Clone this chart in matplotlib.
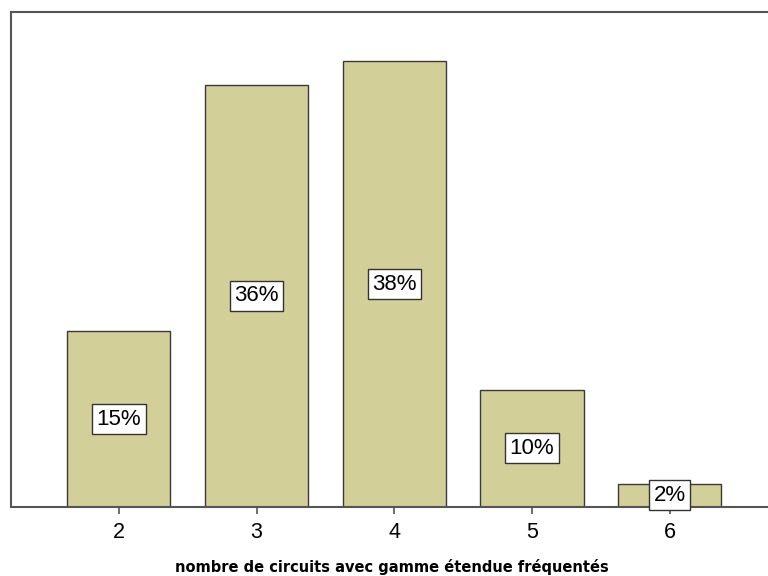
import matplotlib.pyplot as plt

# nombre de circuits fréquentés et pourcentages
categories = ['2', '3', '4', '5', '6']
pourcentages = [15, 36, 38, 10, 2]
etiquettes = ['15%', '36%', '38%', '10%', '2%']

fig = plt.figure(figsize=(7.68, 5.76), dpi=100)
ax = fig.add_axes([11/768, 69/576, 762/768, 495/576])

x = range(len(categories))
barres = ax.bar(x, pourcentages, width=0.75, color='#d3cf98',
                edgecolor='#3a3a3a', linewidth=1.0, zorder=2)

# étiquettes au centre des barres
for xi, val, txt in zip(x, pourcentages, etiquettes):
    ax.text(xi, val / 2, txt, ha='center', va='center', fontsize=16,
            family='Liberation Sans', zorder=3,
            bbox=dict(boxstyle='square,pad=0.2', facecolor='white',
                      edgecolor='#333333', linewidth=1.0))

ax.set_xlim(-0.783, 4.75)
ax.set_ylim(0, 42.2)
ax.set_xticks(list(x))
ax.set_xticklabels(categories, fontsize=15.5, family='Liberation Sans')
ax.set_yticks([])
ax.tick_params(axis='x', length=5, width=1.2, color='#555555', pad=6)

for s in ['left', 'top', 'bottom']:
    ax.spines[s].set_color('#555555')
    ax.spines[s].set_linewidth(1.5)
ax.spines['right'].set_visible(False)

ax.set_xlabel('nombre de circuits avec gamme étendue fréquentés',
              fontsize=10.5, fontweight='bold', labelpad=11)

plt.savefig('out.png', dpi=100)
plt.close()
